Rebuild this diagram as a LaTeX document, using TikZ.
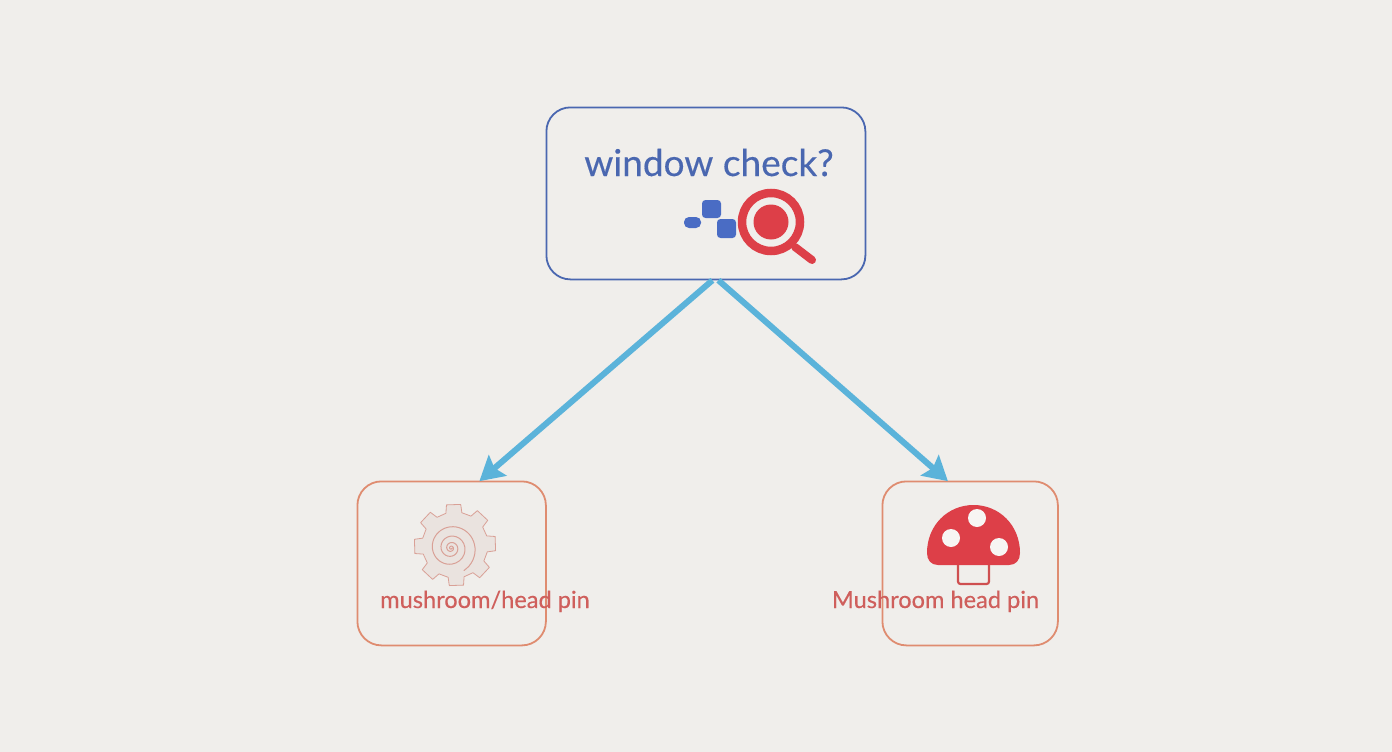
\documentclass[tikz,border=0pt]{standalone}
\usepackage{fontspec}
\setmainfont[FakeBold=0.35]{Lato}
\usetikzlibrary{arrows.meta,calc}
\definecolor{bgc}{HTML}{F0EEEB}
\definecolor{bluec}{HTML}{4A67B0}
\definecolor{squarec}{HTML}{4A6CC4}
\definecolor{redc}{HTML}{DD3F48}
\definecolor{stemc}{HTML}{CF4F50}
\definecolor{dotc}{HTML}{F7F5F3}
\definecolor{salmon}{HTML}{DF8C70}
\definecolor{labelc}{HTML}{CF5F5C}
\definecolor{arrowc}{HTML}{5BB3DA}
\definecolor{gearf}{HTML}{EAE3DF}
\definecolor{gearl}{HTML}{D9A096}
\tikzset{
  x=1pt,y=-1pt,
  boxnode/.style={draw,rounded corners=24pt,line width=1.8pt,inner sep=0pt,anchor=north west},
  topbox/.style={boxnode,draw=bluec},
  lowbox/.style={boxnode,draw=salmon},
  flow/.style={draw=arrowc,line width=6pt,-{Stealth[length=24pt,width=27pt,inset=4pt]},shorten >=-1pt},
  lowlabel/.style={text=labelc,font=\fontsize{23.6}{28}\selectfont,inner sep=0pt,anchor=base},
  bluesq/.style={fill=squarec,rounded corners=3.5pt},
}
\begin{document}
\begin{tikzpicture}
\useasboundingbox (0,0) rectangle (1392,752);
\fill[bgc] (0,0) rectangle (1392,752);
\node[topbox,minimum width=319pt,minimum height=172pt] (top) at (545.5,106.5) {};
\node[lowbox,minimum width=188.5pt,minimum height=164pt] (left) at (356.5,480.5) {};
\node[lowbox,minimum width=175.5pt,minimum height=164pt] (right) at (881.5,480.5) {};
\node[text=bluec,font=\fontsize{37}{40}\selectfont,inner sep=0pt,anchor=base] (title) at (709,176) {window check?};
% magnifier
\draw[redc,line width=8pt,line cap=round] (795,247) -- (812,260);
\draw[redc,line width=8.5pt] (771,222) circle (29);
\fill[redc] (771,222) circle (17.5);
\fill[squarec,rounded corners=5pt] (684,217) rectangle (701,228);
\fill[bluesq] (702,200) rectangle (721,218);
\fill[bluesq] (717,219) rectangle (736,238);
% gear
\coordinate (gc) at (455,545);
\draw[gearl,fill=gearf,line width=.8pt,line join=round]
  ($(gc)+(-102:41)$)
  \foreach \k in {0,...,7}{
    -- ($(gc)+({-102+\k*45}:41)$)
    -- ($(gc)+({-82+\k*45}:41)$)
    -- ($(gc)+({-78+\k*45}:33)$)
    -- ($(gc)+({-61+\k*45}:33)$)
  } -- cycle;
\draw[gearl,line width=1pt,line cap=round]
  plot[smooth,domain=0:1500,samples=100] ({451+(1+25*(\x/1500)*(\x/1500))*cos(\x)},{548+(1+25*(\x/1500)*(\x/1500))*sin(\x)});
\node[lowlabel] (ltext) at (485,608) {mushroom/head pin};
% mushroom
\fill[redc] (927,553) .. controls (927,525) and (948,505) .. (973.5,505)
  .. controls (999,505) and (1020,525) .. (1020,553)
  .. controls (1020,560) and (1016,565) .. (1009,565) -- (938,565)
  .. controls (931,565) and (927,560) .. (927,553) -- cycle;
\draw[stemc,line width=2.2pt,rounded corners=2.5pt] (958,565) -- (958,584) -- (989,584) -- (989,565);
\fill[dotc] (977,518) circle (9) (951,538) circle (9) (999,547) circle (9);
\node[lowlabel] (rtext) at (935.5,608) {Mushroom head pin};
% connectors
\coordinate (tl) at ($(top.south)+(6.5,0)$);
\coordinate (tr) at ($(top.south)+(12.5,0)$);
\coordinate (le) at ($(left.north)+(28.5,0)$);
\coordinate (re) at ($(right.north)+(-23,0)$);
\draw[flow] (tl) -- (le);
\draw[flow] (tr) -- (re);
\end{tikzpicture}
\end{document}
